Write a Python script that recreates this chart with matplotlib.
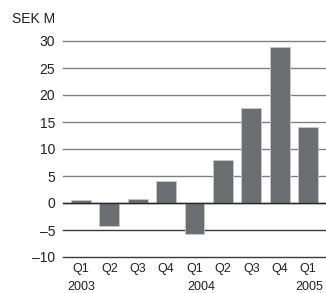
import matplotlib
matplotlib.use("Agg")
import matplotlib.pyplot as plt
import numpy as np

# Data
quarters = ["Q1", "Q2", "Q3", "Q4", "Q1", "Q2", "Q3", "Q4", "Q1"]
years = ["2003", "2004", "2005"]
year_pos = [0, 4.25, 8.05]
values = [0.6, -4.2, 0.8, 4.1, -5.8, 7.9, 17.6, 28.8, 14.0]
yticks = [-10, -5, 0, 5, 10, 15, 20, 25, 30]

plt.rcParams['font.family'] = ['Liberation Sans', 'DejaVu Sans']
txt = '#231f20'

fig = plt.figure(figsize=(3.26, 2.93), dpi=100)
ax = fig.add_axes([63 / 326, 1 - 257 / 293, 263 / 326, 216 / 293])

x = np.arange(len(values))
# horizontal rules
for t in yticks:
    col = '#808080' if t > 0 else '#3a3a3a'
    ax.axhline(t, color=col, lw=1.0, zorder=1, clip_on=False)
ax.bar(x, values, width=0.70, color='#6d6e71', edgecolor='#c9c9c9',
       linewidth=0.6, zorder=2)
ax.axhline(0, color='#2a2a2a', lw=1.0, zorder=3)

ax.set_xlim(-0.634, 8.63)
ax.set_ylim(-10, 30)
ax.set_yticks(yticks)
ax.set_yticklabels([str(t).replace('-', '\u2013') for t in yticks],
                   fontsize=10, color=txt)
ax.set_xticks(x)
ax.set_xticklabels(quarters, fontsize=9, color=txt)
ax.tick_params(axis='y', length=0, pad=5.5)
ax.tick_params(axis='x', length=0, pad=4)
for s in ax.spines.values():
    s.set_visible(False)

for yr, p in zip(years, year_pos):
    ax.text(p, -0.139, yr, transform=ax.get_xaxis_transform(),
            ha='center', va='center', fontsize=9, color=txt)

fig.text(12 / 326, 1 - 19 / 293, "SEK M", ha='left', va='center',
         fontsize=10, color=txt)

fig.savefig("out.png", dpi=100)
